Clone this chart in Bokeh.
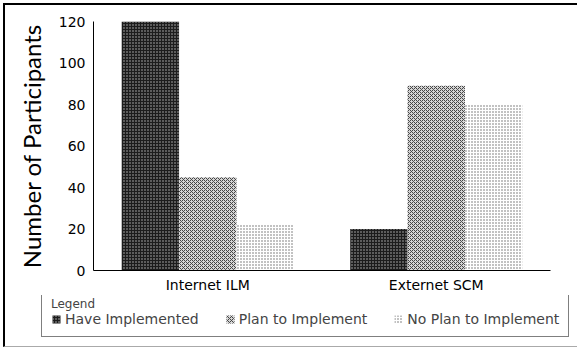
from bokeh.plotting import figure
from bokeh.models import FactorRange, Range1d, FixedTicker, Legend, LegendItem, Title, ColumnDataSource
from bokeh.layouts import column
from bokeh.transform import dodge
from bokeh.embed import file_html
from bokeh.resources import INLINE

categories = ["Internet ILM", "Externet SCM"]
have_implemented = [120, 20]
plan_to_implement = [45, 89]
no_plan = [22, 80]
series_names = ["Have Implemented", "Plan to Implement", "No Plan to Implement"]
y_ticks = [0, 20, 40, 60, 80, 100, 120]

src = ColumnDataSource(dict(cat=categories, have=have_implemented, plan=plan_to_implement, nop=no_plan))

p = figure(width=572, height=290, x_range=FactorRange(factors=categories, range_padding=0),
           y_range=Range1d(0, 120), output_backend="svg", toolbar_location=None,
           min_border_left=88, min_border_top=16, min_border_right=27, min_border_bottom=25)
p.frame_align = False
p.outline_line_color = None
p.xgrid.visible = False
p.ygrid.visible = False

w = 0.251
styles = [
    dict(fill_color="#1c1c1c", hatch_pattern="dot", hatch_color="#bbbbbb", hatch_scale=3, hatch_weight=1),
    dict(fill_color="#d6d6d6", hatch_pattern="diagonal_cross", hatch_color="#444444", hatch_scale=4, hatch_weight=1),
    dict(fill_color="#ffffff", hatch_pattern="dot", hatch_color="#666666", hatch_scale=3, hatch_weight=1),
]
cols = ["have", "plan", "nop"]
offs = [-w, 0, w]
for c, o, st in zip(cols, offs, styles):
    p.vbar(x=dodge("cat", o, range=p.x_range), top=c, width=w, source=src,
           line_color=None, **st)

font = "DejaVu Sans"
for ax in (p.xaxis, p.yaxis):
    ax.major_tick_line_color = None
    ax.minor_tick_line_color = None
    ax.major_tick_out = 0
    ax.major_tick_in = 0
    ax.minor_tick_out = 0
    ax.minor_tick_in = 0
    ax.major_label_text_font = font
    ax.major_label_text_font_size = "14px"
    ax.major_label_text_color = "black"
    ax.axis_line_color = "black"
p.yaxis.ticker = FixedTicker(ticks=y_ticks)
p.yaxis.major_label_standoff = 8
p.xaxis.major_label_standoff = 6

ylab = Title(text="Number of Participants", align="center", offset=-25, standoff=18,
             vertical_align="middle",
             text_font="Lato", text_font_size="24px", text_font_style="normal", text_color="black")
p.add_layout(ylab, "left")

# legend-only figure (bars lie outside its y range, only legend swatches show)
q = figure(width=572, height=51, x_range=FactorRange(factors=categories), y_range=Range1d(1000, 1001),
           output_backend="svg", toolbar_location=None, x_axis_type=None, y_axis_type=None,
           min_border_left=0, min_border_right=0, min_border_top=0, min_border_bottom=0)
q.frame_align = False
q.outline_line_color = None
q.xgrid.visible = False
q.ygrid.visible = False
lrs = [q.vbar(x="cat", top=c, width=0.1, source=src, line_color=None, **st) for c, st in zip(cols, styles)]

legend = Legend(items=[LegendItem(label=n, renderers=[r]) for n, r in zip(series_names, lrs)],
                location=(36, 9), orientation="horizontal", title="Legend",
                title_text_font=font, title_text_font_size="12px", title_text_font_style="normal",
                title_standoff=0,
                label_text_font=font, label_text_font_size="14px",
                glyph_width=10, glyph_height=10, label_standoff=4, spacing=26, padding=9, margin=0,
                border_line_color="black", border_line_width=1, background_fill_alpha=1)
q.add_layout(legend, "center")

layout = column(p, q, spacing=0, margin=(3, 0, 0, 3),
                styles={"border-top": "2px solid black", "border-left": "2px solid black",
                        "border-bottom": "1px solid #aaaaaa"})

open("out.html", "w").write(file_html(layout, INLINE))
